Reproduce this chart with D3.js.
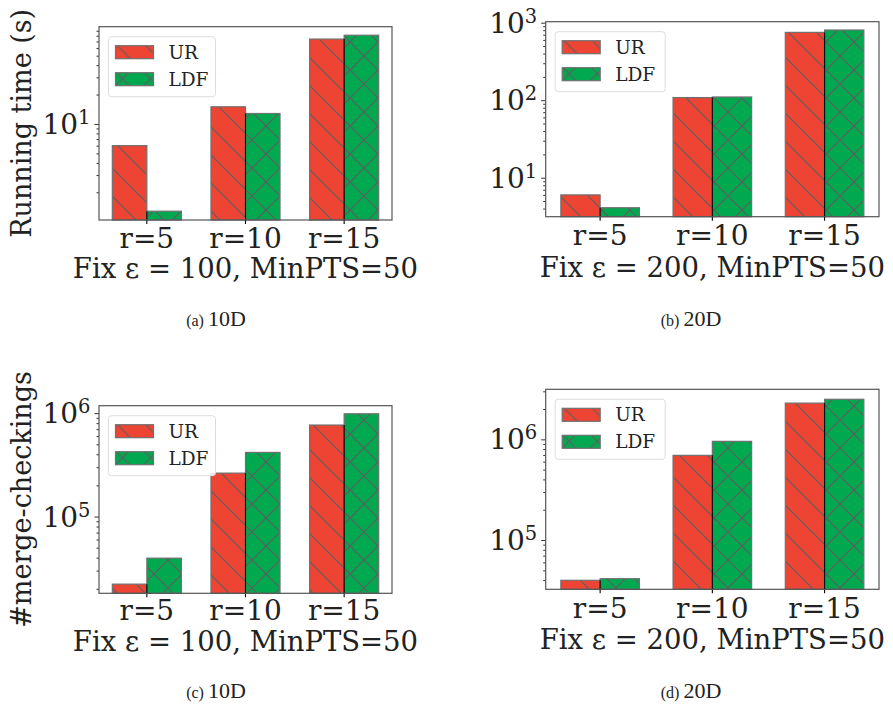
<!DOCTYPE html>
<html>
<head>
<meta charset="utf-8">
<script src="https://cdn.jsdelivr.net/npm/d3@7"></script>
<style>
  body { margin: 0; background: #fff; }
  text { font-family: "DejaVu Serif", serif; fill: #222; }
  .cap { font-family: "Liberation Serif", "DejaVu Serif", serif; }
</style>
</head>
<body>
<svg id="fig" width="893" height="708"></svg>
<script>
// data
var categories = ["r=5", "r=10", "r=15"];
var seriesNames = ["UR", "LDF"];

var timeUR10D  = [6.0, 15.0, 74];
var timeLDF10D = [1.28, 12.8, 81];
var timeUR20D  = [6.0, 108, 750];
var timeLDF20D = [4.1, 110, 805];

var mergeUR10D  = [2.22e4, 2.63e5, 7.67e5];
var mergeLDF10D = [3.96e4, 4.17e5, 9.86e5];
var mergeUR20D  = [3.98e4, 6.93e5, 2.29e6];
var mergeLDF20D = [4.13e4, 9.55e5, 2.5e6];

var colorUR = "#ee4433", colorLDF = "#00a94f", hatchColor = "#5e5e5e";

var svg = d3.select("#fig");
svg.append("rect").attr("width", 893).attr("height", 708).attr("fill", "#fff");

// hatch patterns
var defs = svg.append("defs");
var P = 28;
var back = "M-7,-7L" + (P + 7) + "," + (P + 7) + "M-7," + (P - 7) + "L7," + (P + 7) + "M" + (P - 7) + ",-7L" + (P + 7) + ",7";
var fwd = "M-7," + (P + 7) + "L" + (P + 7) + ",-7M-7,7L7,-7M" + (P - 7) + "," + (P + 7) + "L" + (P + 7) + "," + (P - 7);

var pUR = defs.append("pattern").attr("id", "hatchUR")
  .attr("patternUnits", "userSpaceOnUse").attr("width", P).attr("height", P);
pUR.append("rect").attr("width", P).attr("height", P).attr("fill", colorUR);
pUR.append("path").attr("d", back)
  .attr("stroke", hatchColor).attr("stroke-width", 1.2).attr("fill", "none");

var pLDF = defs.append("pattern").attr("id", "hatchLDF")
  .attr("patternUnits", "userSpaceOnUse").attr("width", P).attr("height", P);
pLDF.append("rect").attr("width", P).attr("height", P).attr("fill", colorLDF);
pLDF.append("path").attr("d", back + fwd)
  .attr("stroke", hatchColor).attr("stroke-width", 1.2).attr("fill", "none");

var fills = ["url(#hatchUR)", "url(#hatchLDF)"];

function drawPanel(cfg) {
  var g = svg.append("g");
  var x = d3.scaleLinear().domain([-0.485, 2.485]).range([cfg.left, cfg.right]);
  var y = d3.scaleLog().domain(cfg.ydomain).range([cfg.bottom, cfg.top]);
  var bw = 0.35;
  var series = [cfg.ur, cfg.ldf];

  // bars
  series.forEach(function(vals, s) {
    g.selectAll(null).data(vals).enter().append("rect")
      .attr("x", function(d, i) { return x(i - bw + s * bw); })
      .attr("y", function(d) { return y(d); })
      .attr("width", x(bw) - x(0))
      .attr("height", function(d) { return cfg.bottom - y(d); })
      .attr("fill", fills[s])
      .attr("stroke", "#707070").attr("stroke-width", 1.2);
  });

  // x ticks (black, through the shared edge)
  g.selectAll(null).data(categories).enter().append("line")
    .attr("x1", function(d, i) { return x(i); })
    .attr("x2", function(d, i) { return x(i); })
    .attr("y1", function(d, i) { return Math.max(y(cfg.ur[i]), y(cfg.ldf[i])); })
    .attr("y2", cfg.bottom + 4)
    .attr("stroke", "#000").attr("stroke-width", 1.1);

  g.selectAll(null).data(categories).enter().append("text")
    .attr("x", function(d, i) { return x(i); })
    .attr("y", cfg.tickBase)
    .attr("text-anchor", "middle")
    .style("font-size", "28px")
    .text(function(d) { return d; });

  // x label
  g.append("text")
    .attr("x", (cfg.left + cfg.right) / 2)
    .attr("y", cfg.xlabBase)
    .attr("text-anchor", "middle")
    .style("font-size", "27.5px")
    .text(cfg.xlabel);

  // y axis ticks (log)
  var lo = Math.floor(Math.log10(cfg.ydomain[0])), hi = Math.ceil(Math.log10(cfg.ydomain[1]));
  var major = [], minor = [];
  for (var e = lo; e <= hi; e++) {
    for (var k = 1; k < 10; k++) {
      var v = k * Math.pow(10, e);
      if (v < cfg.ydomain[0] || v > cfg.ydomain[1] * 1.0001) continue;
      if (k == 1) major.push(v); else minor.push(v);
    }
  }
  var axMinor = d3.axisLeft(y).tickValues(minor).tickSize(2.5).tickFormat("");
  var axMajor = d3.axisLeft(y).tickValues(major).tickSize(4.5).tickFormat("");
  [axMinor, axMajor].forEach(function(ax) {
    var a = g.append("g").attr("transform", "translate(" + cfg.left + ",0)").call(ax);
    a.select(".domain").remove();
    a.selectAll("line").attr("stroke", "#333").attr("stroke-width", 1);
  });

  major.forEach(function(v) {
    var t = g.append("text")
      .attr("x", cfg.left - 8.5)
      .attr("y", y(v) + 10)
      .attr("text-anchor", "end")
      .style("font-size", "28px");
    t.append("tspan").text("10");
    t.append("tspan").attr("dy", -10).style("font-size", "19.5px").text(Math.round(Math.log10(v)));
  });

  // frame
  g.append("rect")
    .attr("x", cfg.left).attr("y", cfg.top)
    .attr("width", cfg.right - cfg.left).attr("height", cfg.bottom - cfg.top)
    .attr("fill", "none").attr("stroke", "#555").attr("stroke-width", 1.2);

  // y label
  if (cfg.ylabel) {
    g.append("text")
      .attr("transform", "translate(31," + ((cfg.top + cfg.bottom) / 2) + ") rotate(-90)")
      .attr("text-anchor", "middle")
      .style("font-size", "27px")
      .text(cfg.ylabel);
  }

  // legend
  var lx = cfg.left + 9.5, ly = cfg.top + 10;
  var lg = g.append("g").attr("transform", "translate(" + lx + "," + ly + ")");
  lg.append("rect").attr("width", cfg.legW).attr("height", 60).attr("rx", 3)
    .attr("fill", "#fff").attr("fill-opacity", 0.85)
    .attr("stroke", "#ddd").attr("stroke-width", 1);
  seriesNames.forEach(function(name, s) {
    lg.append("rect").attr("x", 7).attr("y", 9 + s * 27)
      .attr("width", 38).attr("height", 13)
      .attr("fill", fills[s]).attr("stroke", "#707070").attr("stroke-width", 1.2);
    lg.append("text").attr("x", 60).attr("y", 22 + s * 27)
      .style("font-size", "18.5px").text(name);
  });

  // subcaption
  var cap = svg.append("text").attr("class", "cap")
    .attr("x", cfg.capX).attr("y", cfg.capY).attr("text-anchor", "middle");
  cap.append("tspan").style("font-size", "16px").text(cfg.capTag + " ");
  cap.append("tspan").style("font-size", "22px").text(cfg.capText);
}

drawPanel({left: 99, right: 392, top: 26.7, bottom: 220, ydomain: [1.04, 99],
  ur: timeUR10D, ldf: timeLDF10D, tickBase: 248, xlabBase: 278,
  xlabel: "Fix \u03b5 = 100, MinPTS=50", ylabel: "Running time (s)", legW: 107,
  capX: 216, capY: 326, capTag: "(a)", capText: "10D"});

drawPanel({left: 545.7, right: 879, top: 21.7, bottom: 216.7, ydomain: [3.14, 1030],
  ur: timeUR20D, ldf: timeLDF20D, tickBase: 245, xlabBase: 276.5,
  xlabel: "Fix \u03b5 = 200, MinPTS=50", ylabel: null, legW: 110,
  capX: 691, capY: 326, capTag: "(b)", capText: "20D"});

drawPanel({left: 99, right: 392, top: 405.7, bottom: 593.3, ydomain: [1.81e4, 1.18e6],
  ur: mergeUR10D, ldf: mergeLDF10D, tickBase: 620, xlabBase: 651,
  xlabel: "Fix \u03b5 = 100, MinPTS=50", ylabel: "#merge-checkings", legW: 107,
  capX: 216, capY: 698, capTag: "(c)", capText: "10D"});

drawPanel({left: 545.7, right: 879, top: 389.3, bottom: 589.3, ydomain: [3.24e4, 3.14e6],
  ur: mergeUR20D, ldf: mergeLDF20D, tickBase: 618, xlabBase: 649,
  xlabel: "Fix \u03b5 = 200, MinPTS=50", ylabel: null, legW: 110,
  capX: 691, capY: 698, capTag: "(d)", capText: "20D"});
</script>
</body>
</html>
